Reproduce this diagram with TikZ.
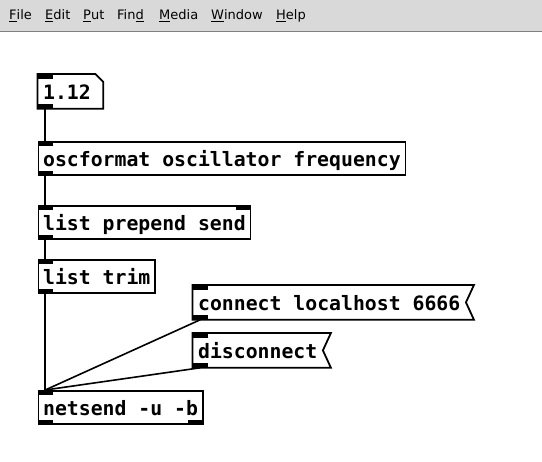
\documentclass[tikz,border=0pt]{standalone}
\usepackage{fontspec}
\usepackage{xcolor}
\newfontfamily\pdfont{DejaVu Sans Mono}
\newfontfamily\menufont{DejaVu Sans}
\usetikzlibrary{positioning,calc}

\definecolor{menubg}{HTML}{D9D9D9}
\definecolor{menuline}{HTML}{808080}

\tikzset{
  pdbox/.style={rectangle, draw, line width=1.8pt, minimum height=33pt,
    inner xsep=4.7pt, inner ysep=0pt, text height=20pt, text depth=4pt,
    anchor=north west, font=\pdfont\bfseries\fontsize{19.8}{24}\selectfont},
  msgbox/.style={pdbox, draw=none},
  boxline/.style={line width=1.8pt},
  port/.style={fill, inner sep=0pt, minimum width=15pt, minimum height=4.5pt},
  wire/.style={line width=1.6pt},
  menuitem/.style={anchor=base west, inner sep=0pt,
    font=\menufont\fontsize{13}{15}\selectfont},
}

\begin{document}
\begin{tikzpicture}[x=1pt, y=-1pt]
        \useasboundingbox[fill=white] (0,0) rectangle (542,462);

        % Menu bar
        \fill[menubg] (0,0) rectangle (542,31);
        \draw[menuline] (0,31) -- (542,31);
        \node[menuitem] (mfile) at (9,20) {\underline{F}ile};
        \node[menuitem] (medit) at (45,20) {\underline{E}dit};
        \node[menuitem] (mput) at (83,20) {\underline{P}ut};
        \node[menuitem] (mfind) at (117,20) {Fin\underline{d}};
        \node[menuitem] (mmedia) at (159,20) {\underline{M}edia};
        \node[menuitem] (mwindow) at (211,20) {\underline{W}indow};
        \node[menuitem] (mhelp) at (276,20) {\underline{H}elp};

        % Number box
        \node[msgbox, text width=54.6pt, align=left] (num) at (37.5,74) {1.12};
        \draw[boxline] (num.north west) -- ([xshift=-8pt]num.north east)
            -- ([yshift=-8pt]num.north east) -- (num.south east)
            -- (num.south west) -- cycle;
        \node[port, anchor=north west] (numin) at (num.north west) {};
        \node[port, anchor=south west] (numout) at (num.south west) {};

        % Objects
        \node[pdbox] (osc) at (37.5,141) {oscformat oscillator frequency};
        \node[port, anchor=north west] (oscin) at (osc.north west) {};
        \node[port, anchor=south west] (oscout) at (osc.south west) {};

        \node[pdbox] (prep) at (37.5,205) {list prepend send};
        \node[port, anchor=north west] (prepin) at (prep.north west) {};
        \node[port, anchor=north east] (prepinr) at (prep.north east) {};
        \node[port, anchor=south west] (prepout) at (prep.south west) {};

        \node[pdbox] (trim) at (37.5,259) {list trim};
        \node[port, anchor=north west] (trimin) at (trim.north west) {};
        \node[port, anchor=south west] (trimout) at (trim.south west) {};

        \node[pdbox] (net) at (37.5,390) {netsend -u -b};
        \node[port, anchor=north west] (netin) at (net.north west) {};
        \node[port, anchor=south west] (netout) at (net.south west) {};
        \node[port, anchor=south east] (netoutr) at (net.south east) {};

        % Message boxes
        \node[msgbox] (conn) at (192.5,285) {connect localhost 6666};
        \draw[boxline] (conn.north west) -- ([xshift=8pt]conn.north east)
            -- (conn.east) -- ([xshift=8pt]conn.south east)
            -- (conn.south west) -- cycle;
        \node[port, anchor=north west] (connin) at (conn.north west) {};
        \node[port, anchor=south west] (connout) at (conn.south west) {};

        \node[msgbox] (disc) at (192.5,333) {disconnect};
        \draw[boxline] (disc.north west) -- ([xshift=8pt]disc.north east)
            -- (disc.east) -- ([xshift=8pt]disc.south east)
            -- (disc.south west) -- cycle;
        \node[port, anchor=north west] (discin) at (disc.north west) {};
        \node[port, anchor=south west] (discout) at (disc.south west) {};

        % Connections
        \draw[wire] (numout.south) -- (oscin.north);
        \draw[wire] (oscout.south) -- (prepin.north);
        \draw[wire] (prepout.south) -- (trimin.north);
        \draw[wire] (trimout.south) -- (netin.north);
        \draw[wire] (connout.south) -- (netin.north);
        \draw[wire] (discout.south) -- (netin.north);
\end{tikzpicture}
\end{document}
